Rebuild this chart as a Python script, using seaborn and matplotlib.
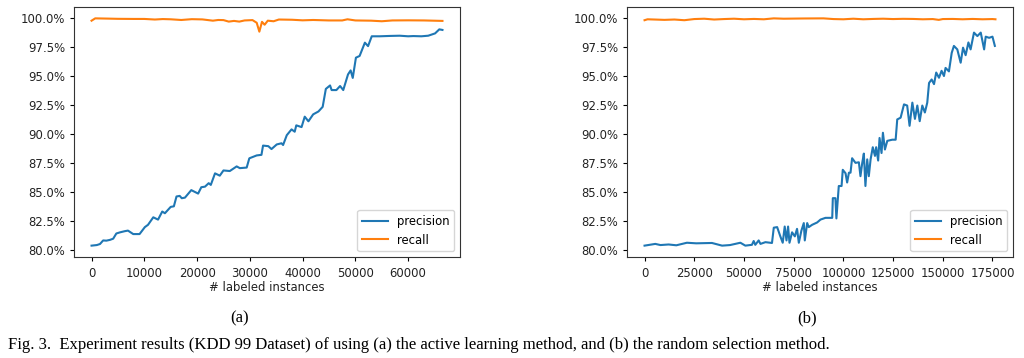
import seaborn as sns
import matplotlib.pyplot as plt
from matplotlib.ticker import PercentFormatter, MultipleLocator

# (a) active learning
a_prec_x = [0, 1000, 1600, 2200, 2800, 3500, 4100, 4700, 5400, 6300, 6900, 7900, 9100,
            10100, 10700, 11700, 12600, 13400, 13900, 15000, 15600, 16100, 16700, 17100,
            17700, 18900, 20200, 20800, 21500, 22200, 22600, 23400, 24300, 25000, 26200,
            27500, 28100, 29400, 29900, 31300, 32200, 32500, 33500, 34100, 35100, 36000,
            36300, 37000, 37900, 38500, 38800, 39800, 40400, 41100, 42000, 43000, 43800,
            44400, 45200, 45500, 46400, 47100, 47700, 48600, 49100, 49500, 50100, 50800,
            51800, 52400, 53100, 54600, 56500, 58400, 60000, 61000, 62500, 63800, 65100,
            65900, 66500]
a_prec = [0.8035, 0.8040, 0.8049, 0.8080, 0.8078, 0.8085, 0.8095, 0.8140, 0.8150, 0.8160,
          0.8165, 0.8135, 0.8135, 0.8195, 0.8215, 0.8280, 0.8260, 0.8330, 0.8315, 0.8370,
          0.8375, 0.8460, 0.8465, 0.8445, 0.8450, 0.8515, 0.8485, 0.8540, 0.8545, 0.8575,
          0.8560, 0.8660, 0.8640, 0.8685, 0.8680, 0.8720, 0.8705, 0.8710, 0.8790, 0.8815,
          0.8820, 0.8900, 0.8895, 0.8870, 0.8910, 0.8920, 0.8905, 0.8990, 0.9040, 0.9020,
          0.9075, 0.9060, 0.9150, 0.9110, 0.9170, 0.9195, 0.9235, 0.9390, 0.9420, 0.9380,
          0.9380, 0.9415, 0.9380, 0.9515, 0.9550, 0.9485, 0.9660, 0.9675, 0.9790, 0.9760,
          0.9845, 0.9845, 0.9848, 0.9850, 0.9845, 0.9847, 0.9845, 0.9850, 0.9870, 0.9905,
          0.9900]
a_rec_x = [0, 700, 3000, 5000, 8000, 10000, 12000, 13500, 15000, 17000, 19000, 21000,
           23000, 24000, 25000, 26000, 27000, 28000, 29000, 30500, 31300, 31800, 32300,
           32800, 33400, 34500, 35500, 38000, 40000, 42000, 45000, 47500, 48500, 50000,
           53000, 55000, 57000, 60000, 63000, 66500]
a_rec = [0.9980, 1.0000, 0.9998, 0.9996, 0.9995, 0.9995, 0.9990, 0.9994, 0.9992, 0.9986,
         0.9993, 0.9991, 0.9980, 0.9986, 0.9985, 0.9972, 0.9978, 0.9972, 0.9982, 0.9985,
         0.9962, 0.9885, 0.9970, 0.9945, 0.9980, 0.9975, 0.9990, 0.9988, 0.9983, 0.9986,
         0.9982, 0.9982, 0.9992, 0.9982, 0.9980, 0.9975, 0.9982, 0.9983, 0.9982, 0.9978]

# (b) random selection
b_prec_x = [0, 5400, 8000, 12100, 16000, 21300, 26000, 33900, 39000, 43000, 48200, 50700,
            54000, 54900, 55700, 57400, 58300, 60800, 64100, 65000, 66700, 68300, 69500,
            70500, 71400, 72200, 72900, 74200, 75600, 76700, 77600, 78900, 80100, 80600,
            81800, 82600, 84300, 86800, 88500, 91000, 94400, 94700, 96000, 96500, 97700,
            99100, 99700, 101100, 101900, 102800, 103600, 104400, 106100, 107800, 108600,
            109500, 110300, 111100, 112000, 112800, 113700, 114800, 115900, 116500, 117500,
            118200, 119200, 119900, 120900, 122100, 124600, 126300, 127100, 128800, 130500,
            132100, 133300, 134700, 136000, 137200, 138400, 139700, 141000, 142200, 143100,
            144400, 145600, 146700, 148100, 149400, 150600, 151400, 153100, 154500, 155600,
            157300, 159000, 160200, 161500, 162900, 164000, 165700, 167400, 169100, 170800,
            171600, 173300, 175000, 176200]
b_prec = [0.8035, 0.8050, 0.8040, 0.8045, 0.8038, 0.8060, 0.8055, 0.8058, 0.8035, 0.8040,
          0.8060, 0.8035, 0.8042, 0.8075, 0.8042, 0.8080, 0.8050, 0.8065, 0.8058, 0.8190,
          0.8195, 0.8115, 0.8060, 0.8200, 0.8080, 0.8200, 0.8060, 0.8150, 0.8115, 0.8180,
          0.8060, 0.8165, 0.8230, 0.8080, 0.8230, 0.8195, 0.8215, 0.8235, 0.8260, 0.8275,
          0.8275, 0.8445, 0.8445, 0.8270, 0.8550, 0.8550, 0.8690, 0.8660, 0.8580, 0.8665,
          0.8665, 0.8790, 0.8750, 0.8755, 0.8635, 0.8750, 0.8830, 0.8550, 0.8780, 0.8635,
          0.8780, 0.8885, 0.8810, 0.8885, 0.8770, 0.8965, 0.8835, 0.9010, 0.8865, 0.8940,
          0.8950, 0.8950, 0.9125, 0.9140, 0.9255, 0.9245, 0.9070, 0.9270, 0.9130, 0.9245,
          0.9110, 0.9245, 0.9185, 0.9270, 0.9440, 0.9470, 0.9430, 0.9530, 0.9485, 0.9545,
          0.9500, 0.9570, 0.9540, 0.9700, 0.9760, 0.9730, 0.9615, 0.9745, 0.9680, 0.9790,
          0.9730, 0.9875, 0.9845, 0.9875, 0.9730, 0.9840, 0.9830, 0.9840, 0.9760]
b_rec_x = [0, 1500, 5000, 10000, 15000, 20000, 25000, 30000, 35000, 40000, 45000, 50000,
           55000, 60000, 65000, 70000, 80000, 90000, 95000, 100000, 105000, 110000, 115000,
           120000, 125000, 130000, 135000, 140000, 145000, 148000, 150000, 155000, 160000,
           165000, 170000, 175000, 176500]
b_rec = [0.9982, 0.9990, 0.9988, 0.9985, 0.9988, 0.9982, 0.9992, 0.9995, 0.9988, 0.9992,
         0.9995, 0.9990, 0.9993, 0.9990, 0.9998, 0.9995, 0.9997, 0.9998, 0.9992, 0.9990,
         0.9995, 0.9990, 0.9993, 0.9995, 0.9992, 0.9994, 0.9993, 0.9990, 0.9992, 0.9985,
         0.9992, 0.9993, 0.9990, 0.9993, 0.9990, 0.9992, 0.9990]

fs = 8.4
fig = plt.figure(figsize=(10.24, 3.58), dpi=100)
ax1 = fig.add_axes([74 / 1024, 1 - 257 / 358, 386 / 1024, 250 / 358])
ax2 = fig.add_axes([627 / 1024, 1 - 257 / 358, 386 / 1024, 250 / 358])

panels = [(ax1, a_prec_x, a_prec, a_rec_x, a_rec, 10000),
          (ax2, b_prec_x, b_prec, b_rec_x, b_rec, 25000)]
for ax, px, py, rx, ry, step in panels:
    sns.lineplot(x=px, y=py, ax=ax, color='#1f77b4', lw=1.5, label='precision')
    sns.lineplot(x=rx, y=ry, ax=ax, color='#ff7f0e', lw=1.5, label='recall')
    ax.yaxis.set_major_locator(MultipleLocator(0.025))
    ax.yaxis.set_major_formatter(PercentFormatter(xmax=1, decimals=1))
    ax.xaxis.set_major_locator(MultipleLocator(step))
    ax.tick_params(labelsize=fs, length=3, width=0.8, labelcolor='#222222')
    ax.tick_params(axis='x', pad=4.5)
    ax.set_xlabel('# labeled instances', fontsize=fs, labelpad=0.5, color='#222222')
    ax.legend(loc='lower right', fontsize=fs, handlelength=2.2)
    for s in ax.spines.values():
        s.set_linewidth(0.8)
        s.set_color('#333333')

fig.text(240 / 1024, 1 - 318 / 358, '(a)', ha='center', va='center',
         family='Liberation Serif', fontsize=12)
fig.text(807 / 1024, 1 - 318 / 358, '(b)', ha='center', va='center',
         family='Liberation Serif', fontsize=12)
fig.text(8 / 1024, 1 - 345 / 358,
         'Fig. 3.  Experiment results (KDD 99 Dataset) of using (a) the active learning '
         'method, and (b) the random selection method.',
         ha='left', va='center', family='Liberation Serif', fontsize=12)

fig.savefig('out.png', dpi=100)
